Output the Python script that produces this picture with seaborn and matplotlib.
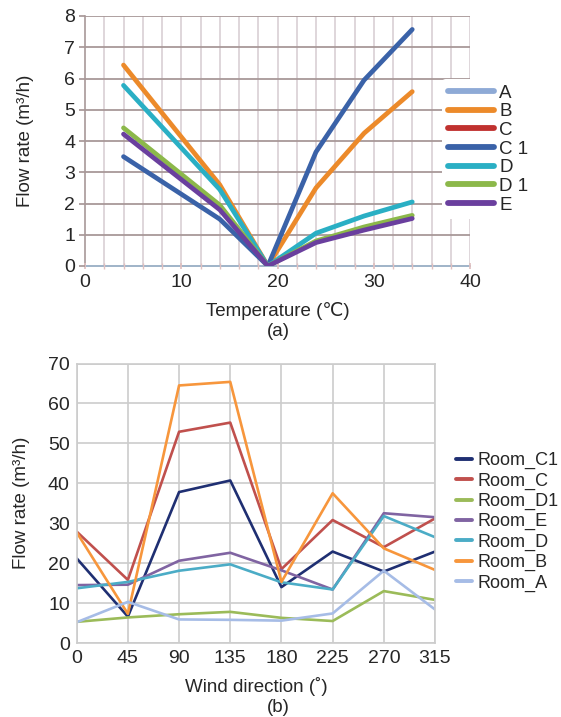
import numpy as np
import pandas as pd
import matplotlib
matplotlib.use("Agg")
import matplotlib.pyplot as plt
from matplotlib.lines import Line2D
from matplotlib.ticker import MultipleLocator
import seaborn as sns

sns.set_theme(style="white")
plt.rcParams["font.family"] = ["Liberation Sans", "DejaVu Sans"]

# ---------------- data (a) ----------------
temperature = [4, 14, 19, 24, 29, 34]
a_names = ["A", "B", "C", "C 1", "D", "D 1", "E"]
flow_A = [np.nan] * 6          # series present in legend, no visible line
flow_B = [6.43, 2.6, 0.0, 2.5, 4.25, 5.58]
flow_C = [np.nan] * 6          # series present in legend, no visible line
flow_C1 = [3.5, 1.5, 0.0, 3.65, 5.95, 7.57]
flow_D = [5.78, 2.45, 0.0, 1.05, 1.6, 2.05]
flow_D1 = [4.42, 1.95, 0.0, 0.8, 1.25, 1.62]
flow_E = [4.22, 1.8, 0.0, 0.75, 1.15, 1.52]
a_colors = ["#8eaad6", "#ec8a2a", "#c0312f", "#3a62a8", "#2aafc4", "#8cb84a", "#6a3f9e"]

# ---------------- data (b) ----------------
wind_dir = [0, 45, 90, 135, 180, 225, 270, 315]
b_names = ["Room_C1", "Room_C", "Room_D1", "Room_E", "Room_D", "Room_B", "Room_A"]
room_C1 = [21.2, 6.6, 37.8, 40.7, 14.0, 22.9, 17.9, 22.9]
room_C = [27.9, 15.8, 52.9, 55.2, 18.5, 30.8, 24.0, 31.2]
room_D1 = [5.3, 6.4, 7.2, 7.8, 6.3, 5.5, 13.0, 10.8]
room_E = [14.5, 14.6, 20.6, 22.6, 18.2, 13.4, 32.5, 31.5]
room_D = [13.7, 15.3, 18.1, 19.7, 15.2, 13.4, 31.8, 26.5]
room_B = [27.7, 7.3, 64.5, 65.4, 15.3, 37.5, 23.7, 18.3]
room_A = [5.2, 10.3, 5.9, 5.8, 5.6, 7.4, 18.1, 8.4]
b_colors = ["#1f2f72", "#c0504d", "#9bbb59", "#8064a2", "#4bacc6", "#f7963c", "#a6bce6"]

a_vals = [flow_A, flow_B, flow_C, flow_C1, flow_D, flow_D1, flow_E]
b_vals = [room_C1, room_C, room_D1, room_E, room_D, room_B, room_A]

df_a = pd.concat([pd.DataFrame({"T": temperature, "Q": v, "s": n}) for n, v in zip(a_names, a_vals)])
df_b = pd.concat([pd.DataFrame({"W": wind_dir, "Q": v, "s": n}) for n, v in zip(b_names, b_vals)])

fig = plt.figure(figsize=(5.61, 7.17), dpi=100)
W, H = 561, 717

def axrect(l, t, r, b):
    return [l / W, 1 - b / H, (r - l) / W, (b - t) / H]

TICK_FS = 14
LAB_FS = 13.5

# ---------------- panel (a) ----------------
ax1 = fig.add_axes(axrect(85, 16, 470, 266))
sns.lineplot(data=df_a.dropna(), x="T", y="Q", hue="s", hue_order=a_names,
             palette=dict(zip(a_names, a_colors)), linewidth=3.4, ax=ax1,
             legend=False, sort=False)
for ln in ax1.lines:
    ln.set_solid_capstyle("round")
    ln.set_solid_joinstyle("round")
ax1.set_xlim(0, 40)
ax1.set_ylim(0, 8)
ax1.xaxis.set_major_locator(MultipleLocator(10))
ax1.xaxis.set_minor_locator(MultipleLocator(2))
ax1.yaxis.set_major_locator(MultipleLocator(1))
ax1.grid(False)
for xv in np.arange(2, 41, 2):
    ax1.axvline(xv, color="#d9d0d4", lw=1.2, zorder=0)
for yv in range(1, 9):
    ax1.axhline(yv, color="#a89898", lw=1.3, zorder=0)
for s in ["top", "right"]:
    ax1.spines[s].set_visible(False)
ax1.spines["left"].set_color("#a89898")
ax1.spines["bottom"].set_color("#9fb3c8")
ax1.spines["left"].set_linewidth(1.2)
ax1.spines["bottom"].set_linewidth(1.4)
ax1.tick_params(axis="x", which="both", direction="inout", length=5, color="#e0c0c0",
                labelsize=TICK_FS, pad=3, bottom=True)
ax1.tick_params(axis="y", which="major", direction="out", length=4, color="#a89898",
                labelsize=TICK_FS, pad=3, left=True)
ax1.set_xlabel("Temperature (\u2103)", fontsize=LAB_FS, labelpad=8)
ax1.set_ylabel("Flow rate (m\u00b3/h)", fontsize=LAB_FS, labelpad=22)
for sp in ax1.spines.values():
    sp.set_zorder(0.5)

h1 = [Line2D([], [], color=c, lw=4.2, solid_capstyle="round") for c in a_colors]
leg1 = fig.legend(h1, a_names, loc="upper left", bbox_to_anchor=(442 / W, 1 - 79 / H),
                  frameon=True, fontsize=13.5, handlelength=2.45, handletextpad=0.3,
                  labelspacing=0.08, borderpad=0.3, borderaxespad=0)
leg1.get_frame().set_facecolor("white")
leg1.get_frame().set_edgecolor("none")
leg1.get_frame().set_alpha(1)

fig.text(278 / W, 1 - 332 / H, "(a)", ha="center", va="center", fontsize=LAB_FS)

# ---------------- panel (b) ----------------
ax2 = fig.add_axes(axrect(76.7, 363.5, 435, 643))
sns.lineplot(data=df_b, x="W", y="Q", hue="s", hue_order=b_names,
             palette=dict(zip(b_names, b_colors)), linewidth=1.9, ax=ax2,
             legend=False, sort=False)
ax2.set_xlim(0, 315)
ax2.set_ylim(0, 70)
ax2.set_xticks(wind_dir)
ax2.set_yticks(range(0, 71, 10))
ax2.grid(True, color="#cccccc", lw=1.2)
ax2.set_axisbelow(True)
for s in ax2.spines.values():
    s.set_color("#cccccc")
    s.set_linewidth(1.2)
ax2.tick_params(axis="both", length=0, labelsize=TICK_FS, pad=5)
ax2.set_xlabel("Wind direction (\u02da)", fontsize=LAB_FS, labelpad=7)
ax2.set_ylabel("Flow rate (m\u00b3/h)", fontsize=LAB_FS, labelpad=13)

h2 = [Line2D([], [], color=c, lw=2.8) for c in b_colors]
leg2 = fig.legend(h2, b_names, loc="upper left", bbox_to_anchor=(456 / W, 1 - 452 / H),
                  frameon=False, fontsize=13, handlelength=0.9, handletextpad=0.3,
                  labelspacing=0.18, borderpad=0, borderaxespad=0)

fig.text(278 / W, 1 - 708 / H, "(b)", ha="center", va="center", fontsize=LAB_FS)

fig.savefig("out.png", dpi=100, facecolor="white")
